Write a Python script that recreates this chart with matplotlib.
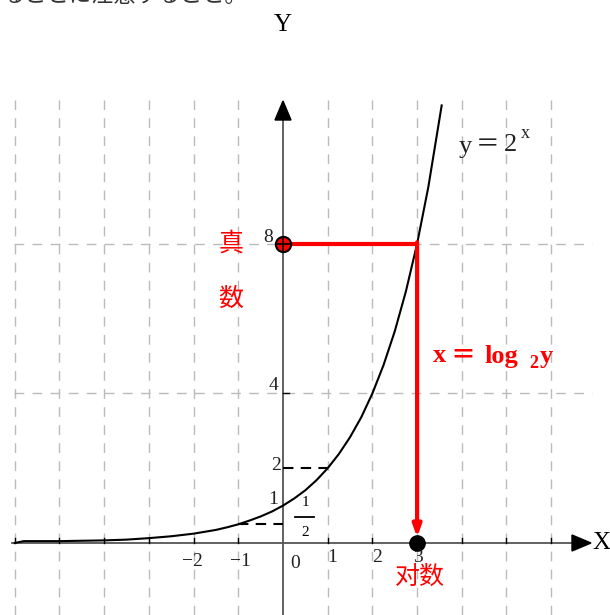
import matplotlib
matplotlib.use("Agg")
import matplotlib.pyplot as plt
from matplotlib.patches import Polygon

# ---- data ----
curve_x = [-6.0, -5.8, -5.0, -4.0, -3.5, -3.0, -2.5, -2.0, -1.75, -1.5, -1.25, -1.0,
           -0.75, -0.5, -0.25, 0.0, 0.25, 0.5, 0.75, 1.0, 1.25, 1.5, 1.75, 2.0,
           2.25, 2.5, 2.75, 3.0, 3.25, 3.55]
curve_y = [0.0, 0.05, 0.05, 0.07, 0.09, 0.13, 0.18, 0.25, 0.30, 0.35, 0.42, 0.50,
           0.60, 0.71, 0.84, 1.00, 1.19, 1.41, 1.68, 2.00, 2.38, 2.83, 3.36, 4.00,
           4.76, 5.66, 6.73, 8.00, 9.51, 11.7]
grid_x = [-6, -5, -4, -3, -2, -1, 1, 2, 3, 4, 5, 6]
grid_y = [4, 8]
xtick_labels = {-2: "\u22122", -1: "\u22121", 0: "0", 1: "1", 2: "2", 3: "3"}
ytick_labels = {1: "1", 2: "2", 4: "4", 8: "8"}
log_x = 3
log_y = 8

# pixel mapping helpers (only for layout)
X0, Y0, UX, UY = 283.0, 543.0, 44.7, 37.4
def dx(px):
    return (px - X0) / UX
def dy(py):
    return (Y0 - py) / UY

fig = plt.figure(figsize=(6.1, 6.15), dpi=100)
ax = fig.add_axes([0, 0, 1, 1])
ax.set_xlim(dx(0), dx(610))
ax.set_ylim(dy(615), dy(0))
ax.axis("off")

serif = ["Liberation Serif", "Noto Sans CJK JP"]
cjk = ["Noto Sans CJK JP", "DejaVu Sans"]

# grid
for gx in grid_x:
    ax.plot([gx, gx], [dy(615), dy(100)], color="#bbbbbb", lw=1.0,
            dashes=(7, 6), zorder=1)
for gy in grid_y:
    ax.plot([dx(14), dx(592)], [gy, gy], color="#bbbbbb", lw=1.0,
            dashes=(7, 6), zorder=1)

# axes lines
ax.plot([dx(12), dx(574)], [0, 0], color="#555555", lw=1.3, zorder=2)
ax.plot([0, 0], [dy(615), dy(118)], color="#555555", lw=1.3, zorder=2)
ax.add_patch(Polygon([[dx(572), dy(535)], [dx(572), dy(551)], [dx(591), dy(543)]],
                     closed=True, color="black", zorder=3))
ax.add_patch(Polygon([[dx(275), dy(120)], [dx(291), dy(120)], [dx(283), dy(101)]],
                     closed=True, color="black", zorder=3))
# small ticks on x-axis
for gx in grid_x:
    ax.plot([gx, gx], [0, dy(538)], color="black", lw=1.0, zorder=2)

ax.text(dx(283), dy(25), "Y", fontsize=18, family=serif, ha="center", va="center")
ax.text(dx(601), dy(543), "X", fontsize=18, family=serif, ha="center", va="center")

# dashed helper lines
ax.plot([-1, 0], [0.5, 0.5], color="black", lw=1.5, dashes=(5, 3.5), zorder=3)
ax.plot([0, 1], [2, 2], color="black", lw=1.5, dashes=(5, 3.5), zorder=3)

# curve
ax.plot(curve_x, curve_y, color="black", lw=1.5, zorder=4)

# red lines
ax.plot([0, log_x], [log_y, log_y], color="red", lw=3, zorder=5, solid_capstyle="butt")
ax.annotate("", xy=(log_x, 0.15), xytext=(log_x, log_y + 0.04),
            arrowprops=dict(arrowstyle="-|>,head_length=0.7,head_width=0.25",
                            color="red", lw=3, shrinkA=0, shrinkB=0), zorder=5)
# points
ax.plot([0], [log_y], marker="o", ms=11, mfc="red", mec="black", mew=1.5, zorder=6)
ax.plot([0], [log_y], marker="+", ms=10, mec="black", mew=1.2, zorder=7)
ax.plot([log_x], [0], marker="o", ms=11, mfc="black", mec="black", zorder=6)

# tick labels
xpos = {-2: (192, 561), -1: (240, 561), 0: (295, 563), 1: (332, 557), 2: (377, 557), 3: (418, 557)}
for k, lab in xtick_labels.items():
    px, py = xpos[k]
    ax.text(dx(px), dy(py), lab, fontsize=14, family=serif, ha="center", va="center", color="#222222")
ypos = {1: (273, 500), 2: (276, 466), 4: (274, 386), 8: (268, 237)}
for k, lab in ytick_labels.items():
    px, py = ypos[k]
    ax.text(dx(px), dy(py), lab, fontsize=14, family=serif, ha="center", va="center", color="#222222")
ax.plot([0, dx(289)], [4, 4], color="black", lw=1.0)

# fraction 1/2
ax.text(dx(305), dy(503), "1", fontsize=11, family=serif, ha="center", va="center")
ax.plot([dx(295), dx(314)], [dy(517), dy(517)], color="black", lw=1.3)
ax.text(dx(305), dy(533), "2", fontsize=11, family=serif, ha="center", va="center")

# labels y=2^x
lab_c = "#222222"
ax.text(dx(459), dy(147), "y", fontsize=19, family=serif, ha="left", va="center", color=lab_c)
ax.text(dx(476), dy(145), "\uff1d", fontsize=17, family=cjk, ha="left", va="center", color=lab_c)
ax.text(dx(504), dy(145), "2", fontsize=19, family=serif, ha="left", va="center", color=lab_c)
ax.text(dx(521), dy(133), "x", fontsize=13, family=serif, ha="left", va="center", color=lab_c)

# label x=log2 y
ax.text(dx(433), dy(356), "x", fontsize=19, family=serif, weight="bold",
        ha="left", va="center", color="red")
ax.text(dx(450), dy(355), "\uff1d", fontsize=18, family=cjk, weight="bold",
        ha="left", va="center", color="red")
ax.text(dx(484), dy(356), "log", fontsize=19, family=serif, weight="bold",
        ha="left", va="center", color="red")
ax.text(dx(529), dy(364), "2", fontsize=13, family=serif, weight="bold",
        ha="left", va="center", color="red")
ax.text(dx(540), dy(356), "y", fontsize=19, family=serif, weight="bold",
        ha="left", va="center", color="red")

ax.text(dx(231), dy(244), "真", fontsize=18, family=cjk, ha="center", va="center", color="red")
ax.text(dx(231), dy(299), "数", fontsize=18, family=cjk, ha="center", va="center", color="red")
ax.text(dx(420), dy(577), "对数", fontsize=18, family=["Noto Sans CJK SC", "DejaVu Sans"],
        ha="center", va="center", color="red")

# cut-off sentence at top (cut off in the reference too)
ax.text(dx(3), dy(-4), "ることに注意すること。", fontsize=16, family=cjk,
        ha="left", va="center", color="#333333")

fig.savefig("out.png", dpi=100)
